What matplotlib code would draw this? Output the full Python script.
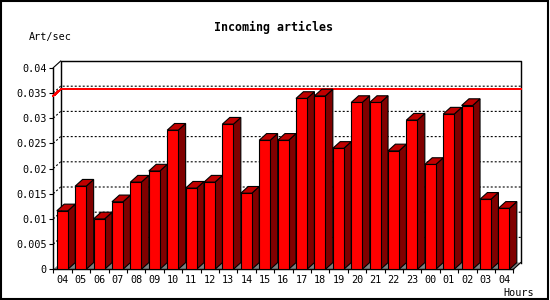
import matplotlib
matplotlib.use("Agg")
import matplotlib.pyplot as plt
from matplotlib.patches import Polygon, Rectangle

# --- data ---
hours = ['04', '05', '06', '07', '08', '09', '10', '11', '12', '13', '14', '15',
         '16', '17', '18', '19', '20', '21', '22', '23', '00', '01', '02', '03', '04']
art_per_sec = [0.0116, 0.0165, 0.0100, 0.0134, 0.0173, 0.0195, 0.0276, 0.0161,
               0.0173, 0.0288, 0.0151, 0.0256, 0.0256, 0.0339, 0.0344, 0.0240,
               0.0331, 0.0331, 0.0235, 0.0296, 0.0208, 0.0308, 0.0325, 0.0139,
               0.0121]
y_ticks = [0, 0.005, 0.01, 0.015, 0.02, 0.025, 0.03, 0.035, 0.04]
y_tick_labels = ['0', '0.005', '0.01', '0.015', '0.02', '0.025', '0.03', '0.035', '0.04']

plt.rcParams['font.family'] = ['DejaVu Sans Mono']

n = len(hours)
ymax = 0.04
# 3d depth offset, in data units (about 7 px each way)
DX = 7.4 / 18.4
DY = 6.7 / 5040
bar_off = 0.19
bar_w = 0.6
LW = 0.8

fig = plt.figure(figsize=(5.5, 3), dpi=100)
ax = fig.add_axes([53.3 / 550, 1 - 269.3 / 300, (520.7 - 53.3) / 550, (269.3 - 61) / 300])
ax.set_xlim(0, n + DX)
ax.set_ylim(0, ymax + DY)
for s in ax.spines.values():
    s.set_visible(False)

# floor
ax.add_patch(Polygon([(0, 0), (n, 0), (n + DX, DY), (DX, DY)], closed=True,
                     facecolor='#808080', edgecolor='none', zorder=1))

# grid lines (left wall diagonal + back wall)
for v in y_ticks[1:-1]:
    ax.plot([0, DX, n + DX], [v, v + DY, v + DY], color='black', lw=LW,
            linestyle=(0, (1.8, 1.8)), zorder=2, clip_on=False)

# max line
top = max(art_per_sec)
ax.plot([0, DX, n + DX], [top, top + DY, top + DY], color='red', lw=0.72,
        antialiased=False, zorder=3, clip_on=False)

# frame of back wall and front axes
ax.plot([DX, DX, n + DX, n + DX], [DY, ymax + DY, ymax + DY, DY], color='black',
        lw=LW * 1.3, zorder=2, clip_on=False)
ax.plot([0, DX], [ymax, ymax + DY], color='black', lw=LW, zorder=2, clip_on=False)
ax.plot([n, n + DX], [0, DY], color='black', lw=LW, zorder=2, clip_on=False)
ax.plot([0, 0, n], [ymax, 0, 0], color='black', lw=LW * 1.3, zorder=2, clip_on=False)

# bars
for i, v in enumerate(art_per_sec):
    l = i + bar_off
    r = l + bar_w
    ax.add_patch(Polygon([(r, 0), (r + DX, DY), (r + DX, v + DY), (r, v)], closed=True,
                         facecolor='#800000', edgecolor='black', lw=LW, zorder=4))
    ax.add_patch(Polygon([(l, v), (l + DX, v + DY), (r + DX, v + DY), (r, v)], closed=True,
                         facecolor='#c00000', edgecolor='black', lw=LW, zorder=4))
    ax.add_patch(Rectangle((l, 0), bar_w, v, facecolor='#ff0000', edgecolor='black',
                           lw=LW, zorder=5))

# ticks
ax.set_yticks(y_ticks)
ax.set_yticklabels(y_tick_labels, fontsize=7.3)
ax.tick_params(axis='y', direction='out', length=2.6, width=LW, pad=2.2)
ax.set_xticks(range(n + 1))
ax.set_xticklabels([])
ax.set_xticks([i + 0.5 for i in range(n)], minor=True)
ax.set_xticklabels(hours, minor=True, fontsize=7.3)
ax.tick_params(axis='x', which='major', direction='out', length=2.6, width=LW)
ax.tick_params(axis='x', which='minor', length=0, pad=4)

# texts
fig.text(273.5 / 550, 1 - 27 / 300, 'Incoming articles', ha='center', va='center',
         fontsize=8.4, fontweight='bold')
fig.text(50.5 / 550, 1 - 37 / 300, 'Art/sec', ha='center', va='center', fontsize=7.3)
fig.text(519 / 550, 1 - 292.5 / 300, 'Hours', ha='center', va='center', fontsize=7.3)

# outer border
fig.add_artist(Rectangle((0.001, 0.004), 0.995, 0.994, transform=fig.transFigure,
                         fill=False, edgecolor='black', lw=1.5))

fig.savefig('out.png', dpi=100)
